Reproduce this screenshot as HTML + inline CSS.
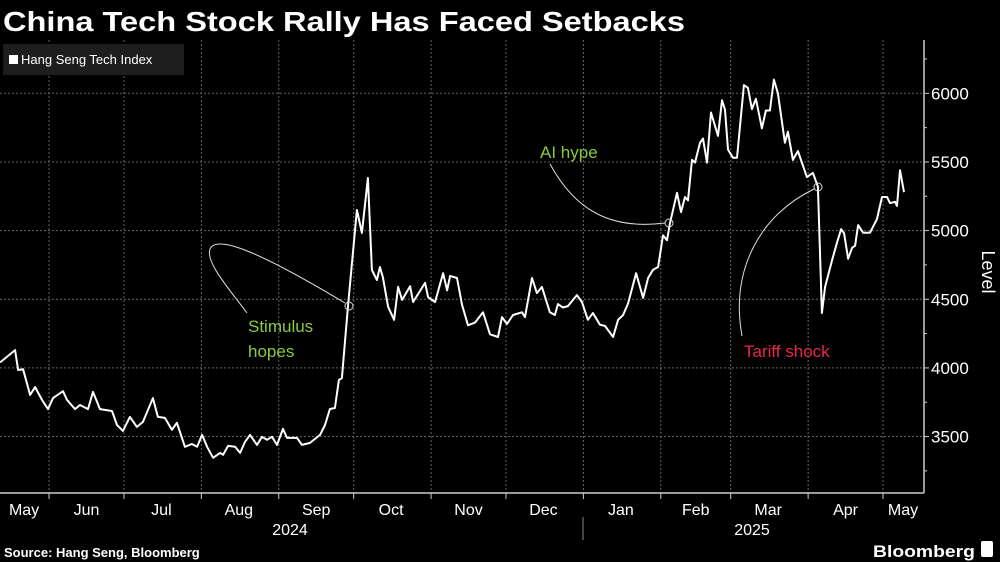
<!DOCTYPE html>
<html><head><meta charset="utf-8"><style>
html,body{margin:0;padding:0;background:#000;}
svg{display:block;font-family:"Liberation Sans",sans-serif;}
</style></head><body>
<svg id="chart" width="1000" height="562" viewBox="0 0 1000 562" xmlns="http://www.w3.org/2000/svg">
<rect width="1000" height="562" fill="#000"/>
<text x="3" y="31" fill="#fff" font-size="28" font-weight="bold" textLength="682" lengthAdjust="spacingAndGlyphs">China Tech Stock Rally Has Faced Setbacks</text>
<g id="grid"></g>
<g id="axes"></g>
<path id="series-line" fill="none" stroke="#fff" stroke-width="2" stroke-linejoin="round"/>
<g>
<rect x="3" y="44" width="181" height="31" fill="#1e1e1e"/>
<rect x="9" y="55" width="9" height="9" fill="#fff"/>
<text x="21" y="64" fill="#fff" font-size="13">Hang Seng Tech Index</text>
</g>
<g>
<path d="M247,313 C230,290 205,262 210,249 C216,236 250,246 345,303" fill="none" stroke="#ddd" stroke-width="1"/>
<circle cx="349" cy="306" r="4" fill="none" stroke="#ddd" stroke-width="1"/>
<text x="248" y="332" fill="#8acb3c" font-size="17">Stimulus</text>
<text x="248" y="357" fill="#8acb3c" font-size="17">hopes</text>
</g>
<g>
<path d="M550,164 C575,210 610,230 665,223" fill="none" stroke="#ddd" stroke-width="1"/>
<circle cx="669" cy="223" r="4" fill="none" stroke="#ddd" stroke-width="1"/>
<text x="540" y="158" fill="#8acb3c" font-size="17">AI hype</text>
</g>
<g>
<path d="M742,336 C730,270 760,215 814,189" fill="none" stroke="#ddd" stroke-width="1"/>
<circle cx="818" cy="187" r="4" fill="none" stroke="#ddd" stroke-width="1"/>
<text x="744" y="357" fill="#e8274a" font-size="17">Tariff shock</text>
</g>
<text x="0" y="0" transform="translate(982,272) rotate(90)" text-anchor="middle" fill="#fff" font-size="18">Level</text>
<text x="4" y="557" fill="#fff" font-size="13" font-weight="bold">Source: Hang Seng, Bloomberg</text>
<text x="873" y="557" fill="#fff" font-size="17" font-weight="bold" textLength="102" lengthAdjust="spacingAndGlyphs">Bloomberg</text>
<rect x="981" y="541" width="12" height="16" rx="2" fill="#fff"/>
</svg>
<script>
const days = [2.4,8.4,9.6,11.6,14.4,16.4,19.2,21.6,23.6,27.6,29.2,32.4,34.4,37.6,39.6,42.4,47.2,49.2,51.6,54.4,57.2,59.6,63.6,65.6,68.4,71.2,73.2,76.4,79.2,81.3,83.3,85.3,87.7,90.5,91.7,93.7,96.5,98.5,100.5,102.5,105.3,107.3,109.3,111.3,113.3,115.7,117.3,121.3,123.3,126.5,130.5,132.5,134.5,136.5,138.1,139.3,141.7,143.7,145.3,147.3,149.7,151.3,153.3,154.5,155.7,157.8,160.2,161.8,163.4,166.6,167.8,172.6,173.8,176.6,179.8,181.4,182.6,185.4,187.4,189.8,192.6,195.8,198.6,201.8,203.4,205.4,207.8,211.4,212.6,215.4,217.4,219.4,222.6,224.6,225.8,227.8,229.8,233.4,235.4,237.8,239.8,242.6,244.7,247.9,249.9,251.9,253.9,257.1,259.9,261.9,263.9,265.9,267.9,269.5,270.7,273.5,275.1,276.7,277.9,279.5,280.7,282.7,283.9,285.5,287.1,289.9,291.5,292.7,293.9,295.9,297.5,300.3,301.9,303.5,305.1,307.5,309.1,310.7,312.3,313.9,316.7,317.9,319.9,321.9,325.5,327.9,329.9,331.5,332.8,335.6,337.6,339.2,340.4,342.0,343.6,344.8,346.0,348.0,350.8,353.6,355.6,357.6,358.8,360.8,361.6,362.8,364.4];
const values = [4040,4130,3985,3990,3803,3860,3767,3700,3780,3830,3767,3700,3730,3700,3825,3700,3686,3584,3541,3643,3570,3606,3780,3643,3636,3549,3600,3425,3446,3425,3512,3425,3345,3381,3367,3432,3425,3381,3461,3512,3439,3498,3476,3498,3439,3556,3490,3490,3439,3454,3512,3584,3701,3708,3912,3926,4443,4837,5150,4983,5383,4713,4640,4735,4660,4445,4350,4590,4495,4595,4480,4620,4515,4480,4690,4565,4670,4655,4460,4310,4330,4405,4245,4225,4370,4320,4385,4405,4370,4655,4545,4590,4405,4385,4465,4440,4450,4530,4480,4350,4400,4315,4305,4225,4350,4385,4470,4690,4510,4655,4715,4735,4965,4930,5055,5275,5135,5245,5220,5515,5495,5640,5670,5495,5860,5690,5950,5880,5590,5530,5530,6060,6040,5885,5960,5745,5875,5875,6100,6000,5640,5720,5515,5580,5390,5420,5320,4400,4590,4785,4915,5010,4980,4795,4875,4890,5040,4985,4985,5085,5245,5245,5200,5210,5180,5440,5280];
const yTicks = [3500,4000,4500,5000,5500,6000];
const monthStarts = [22,52,83,114,144,175,205,236,267,295,326,356];
const monthLabels = ["May","Jun","Jul","Aug","Sep","Oct","Nov","Dec","Jan","Feb","Mar","Apr","May"];
const monthMids = [12,37,67,98,129,159,190,220,251,281,310,341,364];

const X = d => -5.9 + d * 2.497;
const Y = v => 93.3 + (6000 - v) * 0.1373;
const NS = "http://www.w3.org/2000/svg";
const grid = document.getElementById('grid');
const axes = document.getElementById('axes');
function mk(tag, attrs, parent){const e=document.createElementNS(NS,tag);for(const k in attrs)e.setAttribute(k,attrs[k]);parent.appendChild(e);return e;}
const AX = 924, BOT = 493, TOP = 40;
yTicks.forEach(v=>{
  const l = mk('line',{x1:0,x2:AX,y1:Y(v),y2:Y(v),stroke:'#666','stroke-width':1,'stroke-dasharray':'2,2'},grid);
  
  
  const t = mk('text',{x:AX+7,y:Y(v)+6,fill:'#fff','font-size':17},axes);
  t.textContent = v;
  
  
  mk('line',{x1:AX,x2:AX+5,y1:Y(v),y2:Y(v),stroke:'#ccc'},axes);
  mk('line',{x1:AX,x2:AX+3,y1:Y(v+250),y2:Y(v+250),stroke:'#ccc'},axes);
});
mk('line',{x1:AX,x2:AX+3,y1:Y(3250),y2:Y(3250),stroke:'#ccc'},axes);
monthStarts.forEach(d=>{
  const l = mk('line',{x1:X(d),x2:X(d),y1:TOP,y2:BOT,stroke:'#666','stroke-width':1,'stroke-dasharray':'2,2'},grid);
  
  
  mk('line',{x1:X(d),x2:X(d),y1:BOT,y2:BOT+6,stroke:'#ccc'},axes);
});
monthLabels.forEach((m,i)=>{
  const t = mk('text',{x:X(monthMids[i]),y:515,fill:'#fff','font-size':16,'text-anchor':'middle'},axes);
  t.textContent = m;
  
  
});
[["2024",290],["2025",752]].forEach(([y,x])=>{
  const t = mk('text',{x:x,y:535,fill:'#fff','font-size':16,'text-anchor':'middle'},axes);
  t.textContent = y;
  
  
});
mk('line',{x1:583,x2:583,y1:517,y2:540,stroke:'#888'},axes);
const xa = mk('line',{x1:0,x2:AX,y1:BOT,y2:BOT,stroke:'#ccc','stroke-width':1.5},axes);


const ya = mk('line',{x1:AX,x2:AX,y1:TOP,y2:BOT,stroke:'#ccc','stroke-width':1.5},axes);


let d='';
days.forEach((dd,i)=>{d += (i?'L':'M') + X(dd).toFixed(1) + ',' + Y(values[i]).toFixed(1);});
document.getElementById('series-line').setAttribute('d', d);
</script>
</body></html>
